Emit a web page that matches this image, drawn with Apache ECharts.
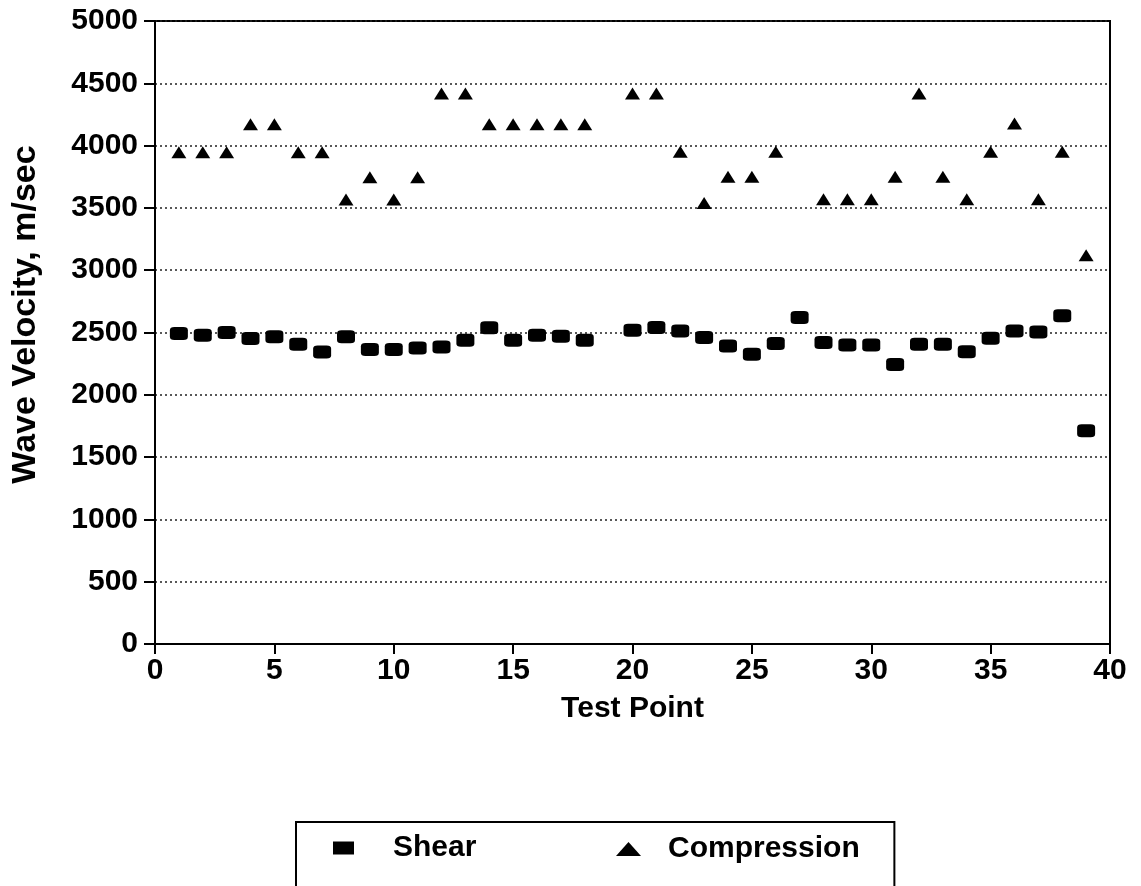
<!DOCTYPE html>
<html>
<head>
<meta charset="utf-8">
<script src="https://cdn.jsdelivr.net/npm/echarts@6/dist/echarts.min.js"></script>
<style>
  html, body { margin: 0; padding: 0; background: #fff; }
  #chart { width: 1141px; height: 886px; }
</style>
</head>
<body>
<div id="chart"></div>
<script>
// ---- Data ----
const testPoints = [1,2,3,4,5,6,7,8,9,10,11,12,13,14,15,16,17,18,
                    20,21,22,23,24,25,26,27,28,29,30,31,32,33,34,35,36,37,38,39];
const shear = [2492,2478,2500,2452,2465,2406,2344,2465,2363,2363,2376,2384,2438,2538,2438,2478,2470,2438,
               2519,2540,2513,2460,2392,2325,2411,2621,2419,2400,2400,2244,2406,2406,2346,2454,2513,2505,2635,1712];
const compression = [3946,3946,3946,4172,4172,3946,3946,3567,3745,3567,3745,4418,4418,4172,4172,4172,4172,4172,
                     4418,4418,3950,3540,3750,3750,3950,null,3570,3570,3570,3750,4418,3750,3570,3950,4178,3570,3950,3120];
const xTicks = { min: 0, max: 40, interval: 5 };
const yTicks = { min: 0, max: 5000, interval: 500 };
const seriesNames = ['Shear', 'Compression'];

const FONT = "'Liberation Sans', Arial, Helvetica, sans-serif";
const toPairs = (vals) => testPoints.map((x, i) => [x, vals[i]]).filter(p => p[1] !== null);

const chart = echarts.init(document.getElementById('chart'), null, { renderer: 'canvas' });
chart.setOption({
  backgroundColor: '#ffffff',
  animation: false,
  textStyle: { fontFamily: FONT, color: '#000' },
  grid: {
    left: 155, top: 21, width: 955, height: 623,
    containLabel: false, outerBoundsMode: 'none',
    show: true, borderColor: '#000', borderWidth: 2, backgroundColor: 'transparent'
  },
  xAxis: {
    type: 'value', min: xTicks.min, max: xTicks.max, interval: xTicks.interval,
    name: 'Test Point', nameLocation: 'middle', nameGap: 50,
    nameTextStyle: { fontSize: 30, fontWeight: 'bold', color: '#000', fontFamily: FONT },
    axisLine: { show: true, lineStyle: { color: '#000', width: 2 } },
    axisTick: { show: true, inside: false, length: 10, lineStyle: { color: '#000', width: 2 } },
    axisLabel: { fontSize: 30, fontWeight: 'bold', color: '#000', margin: 12, fontFamily: FONT,
                 formatter: (v) => String(v) },
    splitLine: { show: false }
  },
  yAxis: {
    type: 'value', min: yTicks.min, max: yTicks.max, interval: yTicks.interval,
    name: 'Wave Velocity, m/sec', nameLocation: 'middle', nameGap: 112, nameRotate: 90,
    nameTextStyle: { fontSize: 34, fontWeight: 'bold', color: '#000', fontFamily: FONT, padding: [0, 0, 0, 36] },
    axisLine: { show: true, lineStyle: { color: '#000', width: 2 } },
    axisTick: { show: true, inside: false, length: 11, lineStyle: { color: '#000', width: 2 } },
    axisLabel: { fontSize: 30, fontWeight: 'bold', color: '#000', margin: 17, fontFamily: FONT,
                 formatter: (v) => String(v) },
    splitLine: { show: true, lineStyle: { color: '#222', width: 1.5, type: [2, 3] } }
  },
  legend: [
    {
      data: [{ name: seriesNames[0], icon: 'rect' }],
      left: 296, top: 822, orient: 'horizontal',
      itemWidth: 21, itemHeight: 13,
      padding: [11, 418, 40, 37],
      borderColor: '#000', borderWidth: 2,
      selectedMode: false,
      textStyle: { fontSize: 30, fontWeight: 'bold', color: '#000', fontFamily: FONT, padding: [0, 0, 0, 34] }
    },
    {
      data: [{ name: seriesNames[1], icon: 'triangle' }],
      left: 616, top: 834, orient: 'horizontal',
      itemWidth: 25, itemHeight: 14,
      padding: 0,
      selectedMode: false,
      textStyle: { fontSize: 30, fontWeight: 'bold', color: '#000', fontFamily: FONT, padding: [0, 0, 0, 22] }
    }
  ],
  series: [
    {
      name: seriesNames[0], type: 'scatter', symbol: 'roundRect', symbolSize: [18, 13],
      itemStyle: { color: '#000', opacity: 1 },
      data: toPairs(shear)
    },
    {
      name: seriesNames[1], type: 'scatter', symbol: 'triangle', symbolSize: [15, 12],
      itemStyle: { color: '#000', opacity: 1 },
      data: toPairs(compression)
    }
  ]
});
</script>
</body>
</html>
